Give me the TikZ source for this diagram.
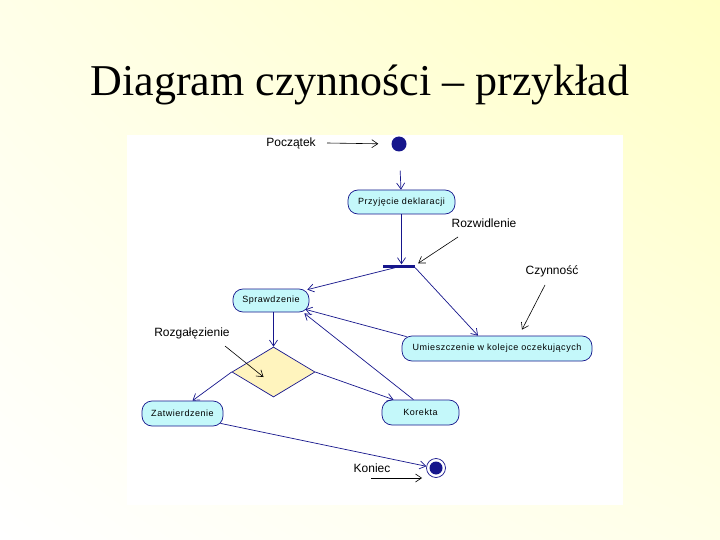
\documentclass[tikz,border=0pt]{standalone}
\usepackage{fontspec}
\setmainfont{Liberation Serif}
\newfontfamily\arialfont{Liberation Sans}
\newfontfamily\boxfont[LetterSpace=6]{Liberation Sans}
\usetikzlibrary{arrows.meta,shapes.geometric,calc,shadings}
\definecolor{navy}{RGB}{22,22,140}
\definecolor{boxfill}{RGB}{196,248,250}
\definecolor{diafill}{RGB}{255,244,190}
\definecolor{bgyellow}{RGB}{255,255,196}
\definecolor{bgpale}{RGB}{255,255,232}
\begin{document}
\begin{tikzpicture}[x=1pt,y=-1pt,
  act/.style={draw=navy, fill=boxfill, line width=0.7pt, rounded corners=10pt, inner sep=0pt,
    font=\boxfont\fontsize{9}{10}\selectfont},
  edge/.style={draw=navy, line width=0.7pt, -{Straight Barb[length=6pt,width=8pt]}},
  note/.style={font=\arialfont\fontsize{12}{14}\selectfont, inner sep=0pt},
  pointer/.style={draw=black, line width=0.6pt, -{Straight Barb[length=6pt,width=8pt]}}
]
\useasboundingbox (0,0) rectangle (720,540);
\shade[upper left=bgpale, upper right=bgyellow, lower left=white, lower right=bgpale] (0,0) rectangle (720,540);
\fill[white] (127,135) rectangle (623,505);

% title
\node[font=\fontsize{44}{50}\selectfont, anchor=base, inner sep=0pt] (title) at (360,96) {Diagram czynności – przykład};

% nodes
\node[circle, fill=navy, minimum size=15pt, inner sep=0pt] (start) at (399,144) {};
\node[act, minimum width=107pt, minimum height=24pt] (przyj) at (401.5,202) {Przyjęcie deklaracji};
\node[fill=navy, minimum width=32pt, minimum height=3pt, inner sep=0pt] (fork) at (399,266) {};
\node[act, minimum width=76pt, minimum height=23pt] (spr) at (271,300.5) {Sprawdzenie};
\node[act, minimum width=190pt, minimum height=25pt] (umi) at (497,348.5) {Umieszczenie w kolejce oczekujących};
\node[diamond, draw=navy, fill=diafill, line width=0.7pt, minimum width=83pt, minimum height=50pt, inner sep=0pt] (dia) at (273.5,372) {};
\node[act, minimum width=81pt, minimum height=25pt] (zat) at (182.5,413.5) {Zatwierdzenie};
\node[act, minimum width=77pt, minimum height=25pt] (kor) at (420.5,412.5) {Korekta};
\node[circle, draw=navy, fill=white, line width=0.7pt, minimum size=19pt, inner sep=0pt] (end) at (436,468) {};
\fill[navy] (end.center) circle (6.5);

% labels
\node[note] (lpocz) at (291,143) {Początek};
\node[note] (lrozw) at (484,223) {Rozwidlenie};
\node[note] (lczyn) at (552,271) {Czynność};
\node[note] (lrozg) at (192,333) {Rozgałęzienie};
\node[note] (lkon) at (372,468) {Koniec};

\coordinate (p1) at (327,143);
\coordinate (p2) at (458,237);
\coordinate (p3) at (545,285);
\coordinate (p4) at (225,346);
\coordinate (p5) at (371,478);

% edges
\draw[edge, shorten <=19pt] (start) -- (przyj);
\draw[edge] (przyj.south) -- (przyj.south |- fork.north);
\draw[edge] ($(fork.south)+(-4,0)$) -- ($(spr.north east)+(-2,1)$);
\draw[edge] (fork.south east) -- ($(umi.north)+(-19,0)$);
\draw[edge] ($(umi.north west)+(5,1)$) -- ($(spr.south east)+(-4,-3)$);
\draw[edge] ($(kor.north)+(-7,0)$) -- ($(spr.south east)+(-5,1)$);
\draw[edge] (spr.south -| dia.north) -- (dia.north);
\draw[edge] (dia.west) -- ($(zat.north)+(10,0)$);
\draw[edge] (dia.east) -- ($(kor.north)+(-27,0)$);
\draw[edge] ($(zat.south east)+(-3,-3)$) -- (end.170);

% pointers
\draw[pointer, shorten >=13pt] (p1) -- (start.west);
\draw[pointer] (p2) -- ($(fork.north east)+(3,-1)$);
\draw[pointer] (p3) -- ($(umi.north)+(25,-6)$);
\draw[pointer] (p4) -- ($(dia.center)+(-10,5)$);
\draw[pointer] (p5) -- ($(end.center)+(-14,10)$);
\end{tikzpicture}
\end{document}
